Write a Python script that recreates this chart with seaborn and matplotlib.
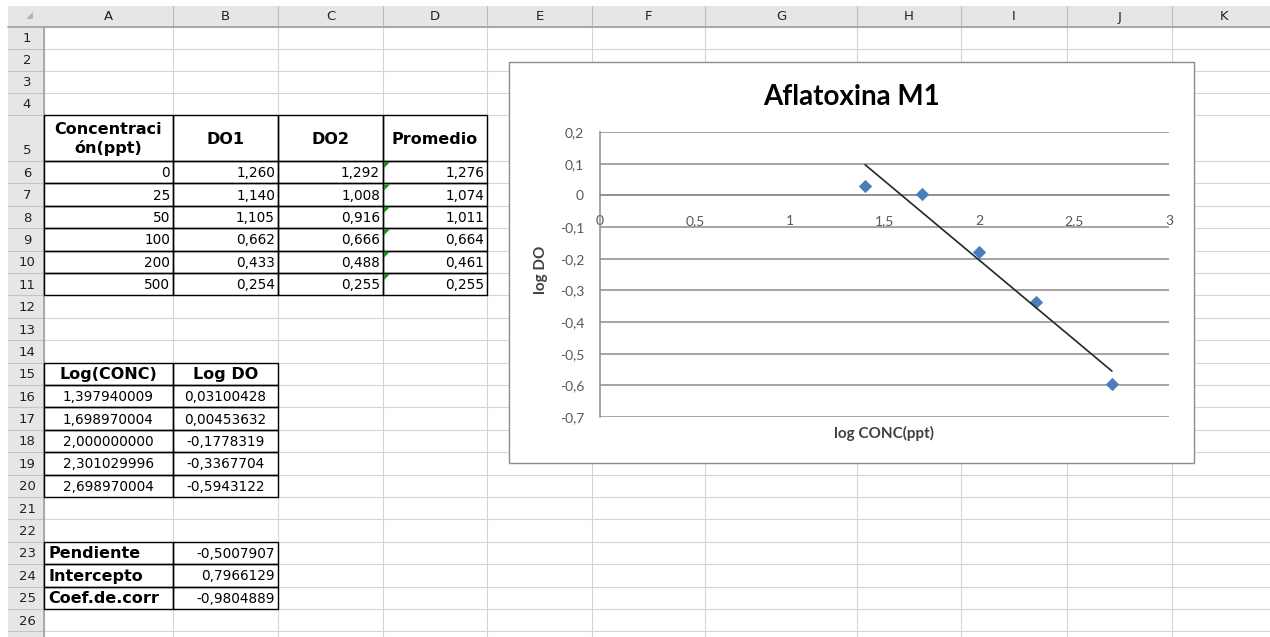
import numpy as np
import matplotlib
matplotlib.use('Agg')
import matplotlib.pyplot as plt
from matplotlib.patches import Rectangle, Polygon
from matplotlib.ticker import FuncFormatter, MultipleLocator
import seaborn as sns

# --- sheet values ---
concentracion = [0, 25, 50, 100, 200, 500]
do1 = [1.260, 1.140, 1.105, 0.662, 0.433, 0.254]
do2 = [1.292, 1.008, 0.916, 0.666, 0.488, 0.255]
promedio = [1.276, 1.074, 1.011, 0.664, 0.461, 0.255]

log_conc = [1.397940009, 1.698970004, 2.000000000, 2.301029996, 2.698970004]
log_do = [0.03100428, 0.00453632, -0.1778319, -0.3367704, -0.5943122]

stat_names = ['Pendiente', 'Intercepto', 'Coef.de.corr']
stat_values = [-0.5007907, 0.7966129, -0.9804889]

col_letters = list('ABCDEFGHIJK')
header_top = ['Concentraci\nón(ppt)', 'DO1', 'DO2', 'Promedio']
header_log = ['Log(CONC)', 'Log DO']

W, H = 1270, 637
col_edges = [8, 44, 173, 278, 383, 487, 592, 705, 857, 961, 1067, 1172, 1277]
row_h = [21.5, 22, 22.5, 22, 46] + [22.4] * 22
row_edges = np.concatenate([[27], 27 + np.cumsum(row_h)])

GRID = '#D4D4D4'
HEAD = '#E6E6E6'
CHART_GRID = '#8C8C8C'


def cell(r, c):
    # r is the 1-based sheet row, c the 0-based column (A=0)
    return col_edges[c + 1], col_edges[c + 2], row_edges[r - 1], row_edges[r]


def comma(v, decimals):
    return f'{v:.{decimals}f}'.replace('.', ',')


def put(r, c, s, ha='right', bold=False, size=9.8):
    x0, x1, y0, y1 = cell(r, c)
    x = {'right': x1 - 3, 'left': x0 + 4, 'center': (x0 + x1) / 2}[ha]
    sheet.text(x, (y0 + y1) / 2 + 1, s, ha=ha, va='center', fontsize=size,
               fontweight='bold' if bold else 'normal', color='black', zorder=3)


def box(r0, r1, c0, c1):
    for r in range(r0, r1 + 1):
        for c in range(c0, c1 + 1):
            x0, x1, y0, y1 = cell(r, c)
            sheet.add_patch(Rectangle((x0, y0), x1 - x0, y1 - y0, fill=False,
                                      ec='black', lw=1.0, zorder=2))


sns.set_style('white')
plt.rcParams['font.family'] = ['DejaVu Sans']

fig = plt.figure(figsize=(W / 100, H / 100), dpi=100)
sheet = fig.add_axes([0, 0, 1, 1])
sheet.set_xlim(0, W)
sheet.set_ylim(H, 0)
sheet.axis('off')

# worksheet grid
for x in col_edges[1:]:
    sheet.plot([x, x], [27, H], color=GRID, lw=0.8, zorder=1)
for y in row_edges:
    sheet.plot([44, W], [y, y], color=GRID, lw=0.8, zorder=1)

# row / column headers
sheet.add_patch(Rectangle((8, 6), W - 8, 21, fc=HEAD, ec='none', zorder=1))
sheet.add_patch(Rectangle((8, 27), 36, H - 27, fc=HEAD, ec='none', zorder=1))
for x in col_edges[2:]:
    sheet.plot([x, x], [6, 27], color='#BDBDBD', lw=0.8, zorder=1.5)
for y in row_edges[1:]:
    sheet.plot([8, 44], [y, y], color='#C4C4C4', lw=0.8, zorder=1.5)
sheet.plot([8, W], [27, 27], color='#A0A0A0', lw=1.2, zorder=1.6)
sheet.plot([44, 44], [27, H], color='#A0A0A0', lw=1.2, zorder=1.6)
sheet.add_patch(Polygon([(33, 12), (33, 19), (26, 19)], closed=True, fc='#B5B5B5', ec='none', zorder=2))

for i, letter in enumerate(col_letters):
    sheet.text((col_edges[i + 1] + col_edges[i + 2]) / 2, 17, letter, ha='center', va='center',
               fontsize=9.5, color='#222222', zorder=2)
for r in range(1, 27):
    y0, y1 = row_edges[r - 1], row_edges[r]
    yc = y1 - 10 if r == 5 else (y0 + y1) / 2 + 1
    sheet.text(27, yc, str(r), ha='center', va='center', fontsize=9.5, color='#222222', zorder=2)

# first table
box(5, 11, 0, 3)
for c, label in enumerate(header_top):
    put(5, c, label, ha='center', bold=True, size=11.5)
for i in range(len(concentracion)):
    r = 6 + i
    put(r, 0, str(concentracion[i]))
    put(r, 1, comma(do1[i], 3))
    put(r, 2, comma(do2[i], 3))
    put(r, 3, comma(promedio[i], 3))
    x0, x1, y0, y1 = cell(r, 3)
    sheet.add_patch(Polygon([(x0 + 1, y0 + 1), (x0 + 7, y0 + 1), (x0 + 1, y0 + 7)], closed=True,
                            fc='#1F8A1F', ec='none', zorder=4))

# log table
box(15, 20, 0, 1)
for c, label in enumerate(header_log):
    put(15, c, label, ha='center', bold=True, size=11.5)
for i in range(len(log_conc)):
    put(16 + i, 0, comma(log_conc[i], 9), ha='center')
    put(16 + i, 1, comma(log_do[i], 8 if log_do[i] >= 0 else 7), ha='center')

# regression summary
box(23, 25, 0, 1)
for i, (name, val) in enumerate(zip(stat_names, stat_values)):
    put(23 + i, 0, name, ha='left', bold=True, size=11.5)
    put(23 + i, 1, comma(val, 7))

# chart object
sheet.add_patch(Rectangle((509, 62), 685, 401, fc='white', ec='#8C8C8C', lw=1.0, zorder=5))
sheet.text(851.5, 97, 'Aflatoxina M1', ha='center', va='center', fontsize=20, fontweight='bold',
           family='Lato', color='black', zorder=6)

ax = fig.add_axes([600 / W, 1 - 417 / H, 569 / W, 285 / H])
ax.patch.set_alpha(0)

sns.scatterplot(x=log_conc, y=log_do, ax=ax, marker='D', s=46, color='#4A7EBB', linewidth=0, zorder=3)
sns.regplot(x=log_conc, y=log_do, ax=ax, scatter=False, ci=None, truncate=True,
            color='#262626', line_kws={'lw': 1.2, 'zorder': 4})

ax.set_xlim(0, 3)
ax.set_ylim(-0.7, 0.2)
ax.xaxis.set_major_locator(MultipleLocator(0.5))
ax.yaxis.set_major_locator(MultipleLocator(0.1))
fmt = FuncFormatter(lambda v, pos: ('0' if abs(v) < 1e-9 else f'{round(v, 2):g}').replace('.', ','))
ax.xaxis.set_major_formatter(fmt)
ax.yaxis.set_major_formatter(fmt)

ax.grid(axis='y', color=CHART_GRID, lw=1.1)
ax.grid(axis='x', visible=False)
ax.set_axisbelow(True)
for side in ['top', 'right']:
    ax.spines[side].set_visible(False)
ax.spines['left'].set_color(CHART_GRID)
ax.spines['left'].set_linewidth(1.1)
ax.spines['bottom'].set_position(('data', 0))
ax.spines['bottom'].set_color(CHART_GRID)
ax.spines['bottom'].set_linewidth(1.1)

ax.tick_params(axis='both', length=0, labelsize=10, labelcolor='#595959')
ax.tick_params(axis='x', pad=14.5)
ax.tick_params(axis='y', pad=11.5)
for lbl in ax.get_xticklabels() + ax.get_yticklabels():
    lbl.set_family('Lato')

ax.set_xlabel('log CONC(ppt)', fontsize=11, fontweight='bold', family='Lato', color='#404040')
ax.set_ylabel('log DO', fontsize=11, fontweight='bold', family='Lato', color='#404040')
ax.xaxis.set_label_coords(0.5, -16 / 285)
ax.xaxis.label.set_va('center')
ax.yaxis.set_label_coords((541 - 600) / 569, (417 - 270) / 285)
ax.yaxis.label.set_va('center')

fig.savefig('out.png', dpi=100)
